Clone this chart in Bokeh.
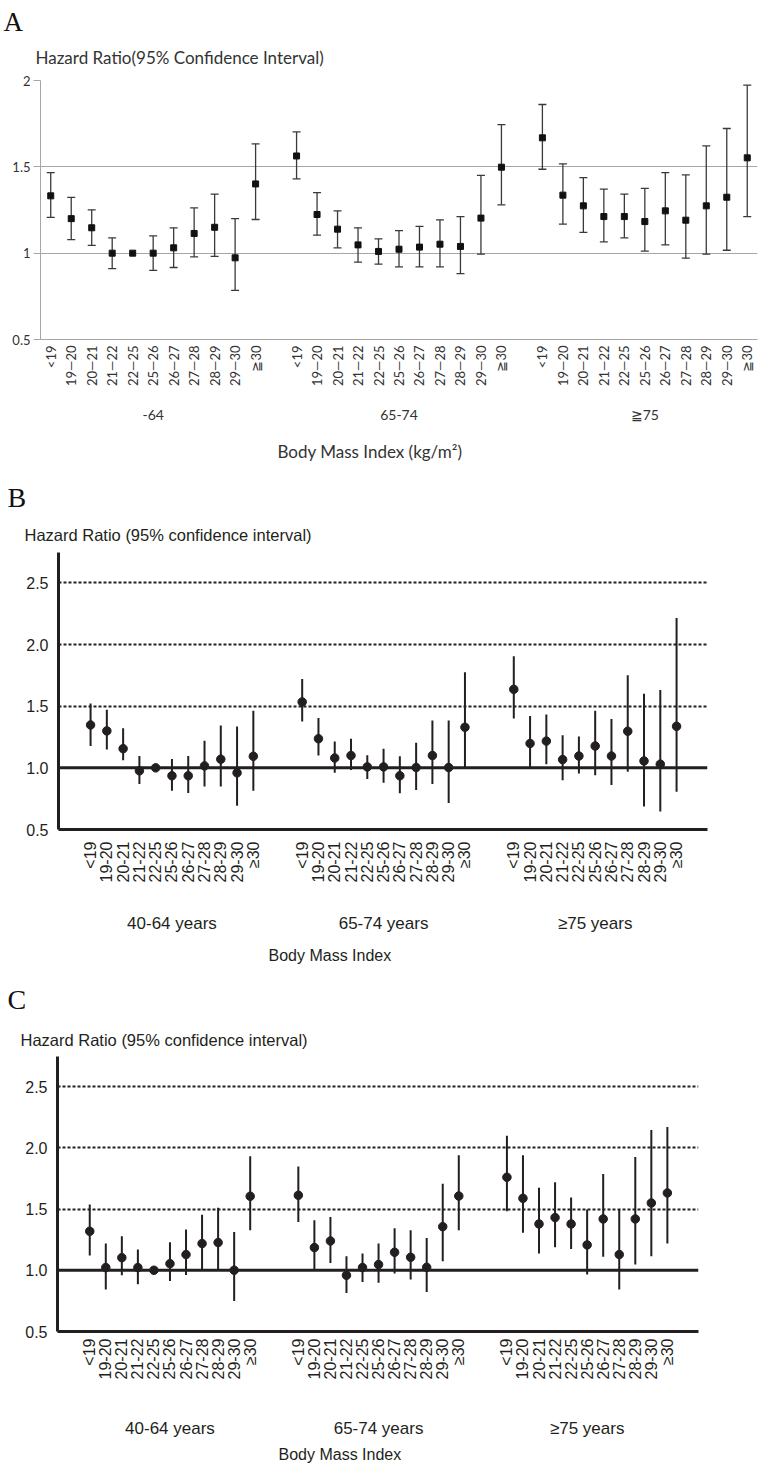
import math
from bokeh.plotting import figure
from bokeh.models import (Range1d, FixedTicker, Span, ColumnDataSource, NumeralTickFormatter,
                          LinearAxis, Title)
from bokeh.embed import file_html
from bokeh.resources import INLINE

NaN = float("nan")

# ---------------- Panel A data ----------------
a_groups = ["-64", "65-74", "≧75"]
a_cats = ["<19", "19—20", "20—21", "21—22", "22—25", "25—26", "26—27", "27—28", "28—29", "29—30", "≧30"]
a_hr_64 = [1.332, 1.200, 1.147, 1.000, 1.000, 1.000, 1.031, 1.114, 1.150, 0.973, 1.401]
a_lo_64 = [1.207, 1.079, 1.045, 0.911, NaN, 0.900, 0.917, 0.979, 0.981, 0.784, 1.195]
a_hi_64 = [1.467, 1.323, 1.251, 1.089, NaN, 1.100, 1.147, 1.262, 1.342, 1.200, 1.633]
a_hr_6574 = [1.563, 1.224, 1.139, 1.048, 1.010, 1.023, 1.035, 1.052, 1.039, 1.203, 1.498]
a_lo_6574 = [1.430, 1.104, 1.031, 0.948, 0.936, 0.921, 0.921, 0.921, 0.882, 0.994, 1.280]
a_hi_6574 = [1.702, 1.351, 1.245, 1.147, 1.083, 1.131, 1.155, 1.193, 1.212, 1.450, 1.745]
a_hr_75 = [1.668, 1.336, 1.274, 1.212, 1.212, 1.183, 1.245, 1.191, 1.274, 1.324, 1.552]
a_lo_75 = [1.486, 1.168, 1.120, 1.065, 1.089, 1.012, 1.048, 0.971, 0.994, 1.017, 1.212]
a_hi_75 = [1.861, 1.517, 1.438, 1.371, 1.342, 1.375, 1.467, 1.453, 1.621, 1.722, 1.973]
a_yticks = [0.5, 1.0, 1.5, 2.0]

# ---------------- Panel B data ----------------
bc_groups = ["40-64 years", "65-74 years", "≥75 years"]
bc_cats = ["<19", "19-20", "20-21", "21-22", "22-25", "25-26", "26-27", "27-28", "28-29", "29-30", "≥30"]
b_hr_4064 = [1.348, 1.300, 1.156, 0.976, 1.000, 0.936, 0.936, 1.016, 1.070, 0.960, 1.094]
b_lo_4064 = [1.177, 1.148, 1.062, 0.869, NaN, 0.815, 0.797, 0.848, 0.848, 0.693, 0.815]
b_hi_4064 = [1.522, 1.471, 1.321, 1.096, NaN, 1.072, 1.096, 1.220, 1.343, 1.335, 1.463]
b_hr_6574 = [1.535, 1.236, 1.080, 1.100, 1.008, 1.008, 0.936, 1.003, 1.100, 1.003, 1.329]
b_lo_6574 = [1.377, 1.100, 0.960, 0.982, 0.909, 0.880, 0.794, 0.820, 0.869, 0.714, 1.000]
b_hi_6574 = [1.720, 1.404, 1.214, 1.236, 1.102, 1.156, 1.094, 1.204, 1.385, 1.385, 1.776]
b_hr_75 = [1.637, 1.198, 1.217, 1.067, 1.096, 1.177, 1.096, 1.297, 1.056, 1.030, 1.337]
b_lo_75 = [1.401, 1.000, 1.030, 0.900, 0.955, 0.941, 0.861, 0.968, 0.687, 0.647, 0.807]
b_hi_75 = [1.905, 1.420, 1.433, 1.265, 1.254, 1.463, 1.396, 1.752, 1.602, 1.632, 2.215]

# ---------------- Panel C data ----------------
c_hr_4064 = [1.318, 1.022, 1.103, 1.022, 1.000, 1.054, 1.128, 1.218, 1.226, 1.000, 1.604]
c_lo_4064 = [1.120, 0.842, 0.959, 0.886, NaN, 0.913, 0.962, 1.010, 1.005, 0.750, 1.326]
c_hi_4064 = [1.536, 1.218, 1.277, 1.169, NaN, 1.228, 1.332, 1.454, 1.511, 1.313, 1.930]
c_hr_6574 = [1.612, 1.185, 1.239, 0.959, 1.022, 1.046, 1.147, 1.106, 1.024, 1.356, 1.606]
c_lo_6574 = [1.394, 1.000, 1.060, 0.815, 0.905, 0.897, 0.973, 0.924, 0.823, 1.073, 1.326]
c_hi_6574 = [1.848, 1.408, 1.435, 1.114, 1.136, 1.218, 1.343, 1.326, 1.264, 1.707, 1.938]
c_hr_75 = [1.759, 1.587, 1.378, 1.430, 1.378, 1.207, 1.419, 1.128, 1.419, 1.549, 1.631]
c_lo_75 = [1.481, 1.307, 1.136, 1.188, 1.174, 0.965, 1.111, 0.842, 1.046, 1.114, 1.218]
c_hi_75 = [2.099, 1.938, 1.674, 1.718, 1.593, 1.495, 1.786, 1.495, 1.924, 2.144, 2.169]
bc_yticks = [0.5, 1.0, 1.5, 2.0, 2.5]
bc_dotted = [1.5, 2.0, 2.5]

INK = "#231f20"


def slot_positions(step, n_groups, n_cats):
    return [g * step + i for g in range(n_groups) for i in range(n_cats)]


def style_title(t, text, font, size, color, offset, standoff):
    t.text = text
    t.text_font = font
    t.text_font_size = size
    t.text_font_style = "normal"
    t.text_color = color
    t.align = "left"
    t.offset = offset
    t.standoff = standoff


def group_axis(centers, names, font, size, color, standoff):
    ax = LinearAxis(ticker=FixedTicker(ticks=centers, minor_ticks=[]),
                    major_label_overrides={c: n for c, n in zip(centers, names)})
    ax.axis_line_color = None
    ax.major_tick_line_color = None
    ax.major_tick_out = 0
    ax.major_tick_in = 0
    ax.major_label_standoff = standoff
    ax.major_label_text_font = font
    ax.major_label_text_font_size = size
    ax.major_label_text_color = color
    return ax


# ======================= Panel A =======================
def panel_a():
    step = len(a_cats) + 1
    xs = slot_positions(step, len(a_groups), len(a_cats))
    src = ColumnDataSource(dict(
        x=xs,
        hr=a_hr_64 + a_hr_6574 + a_hr_75,
        lo=a_lo_64 + a_lo_6574 + a_lo_75,
        hi=a_hi_64 + a_hi_6574 + a_hi_75,
    ))
    p = figure(width=758, height=478, output_backend="svg", toolbar_location=None,
               x_range=Range1d(-0.5, xs[-1] + 0.5), y_range=Range1d(0.5, 2.0),
               min_border_left=40, min_border_right=1, min_border_top=80, min_border_bottom=139)
    p.outline_line_color = None
    p.xgrid.grid_line_color = None
    p.ygrid.ticker = FixedTicker(ticks=a_yticks, minor_ticks=[])
    p.ygrid.grid_line_color = "#a6a6a6"
    p.ygrid.grid_line_width = 1

    col = "#3a3a3a"
    p.segment(x0="x", y0="lo", x1="x", y1="hi", source=src, line_color=col, line_width=1.3)
    p.scatter(x="x", y="lo", source=src, marker="dash", size=8, line_color=col, line_width=1.3)
    p.scatter(x="x", y="hi", source=src, marker="dash", size=8, line_color=col, line_width=1.3)
    p.scatter(x="x", y="hr", source=src, marker="square", size=6, fill_color="#111111", line_color="#111111")

    ya = p.yaxis[0]
    ya.ticker = FixedTicker(ticks=a_yticks, minor_ticks=[])
    ya.formatter = NumeralTickFormatter(format="0.[0]")
    ya.axis_line_color = "#a6a6a6"
    ya.major_tick_line_color = "#a6a6a6"
    ya.major_tick_out = 7
    ya.major_tick_in = 0
    ya.major_label_standoff = 3
    ya.major_label_text_font = "Lato"
    ya.major_label_text_font_size = "13px"
    ya.major_label_text_color = "#333333"

    xa = p.xaxis[0]
    xa.ticker = FixedTicker(ticks=xs, minor_ticks=[])
    xa.major_label_overrides = {x: lab for x, lab in zip(xs, a_cats * len(a_groups))}
    xa.major_label_orientation = math.pi / 2
    xa.axis_line_color = "#a6a6a6"
    xa.major_tick_line_color = None
    xa.major_tick_out = 0
    xa.major_label_standoff = 6
    xa.major_label_text_font = "Lato"
    xa.major_label_text_font_size = "13px"
    xa.major_label_text_color = "#333333"

    centers = [g * step + (len(a_cats) - 1) // 2 for g in range(len(a_groups))]
    p.add_layout(group_axis(centers, a_groups, "Lato", "14px", "#333333", 17), "below")
    p.add_layout(Title(text="Body Mass Index (kg/m²)", text_font="Lato", text_font_size="17px",
                       text_font_style="normal", text_color="#333333", align="left",
                       offset=237, standoff=27), "below")

    # outermost: panel letter; nearest the frame: y-axis caption
    style_title(p.title, "A", "Liberation Serif", "27px", "#111111", -37, -8)
    p.add_layout(Title(text="Hazard Ratio(95% Confidence  Interval)", text_font="Lato", text_font_size="17px",
                       text_font_style="normal", text_color="#333333", align="left",
                       offset=-5, standoff=25), "above")
    return p


# ======================= Panels B / C =======================
def panel_bc(letter, hr, lo, hi, height, top, bottom, left, right, xr, yr_end,
             letter_off, letter_standoff, title_off, title_standoff, tick_standoff,
             group_standoff, bmi_off, bmi_standoff):
    step = len(bc_cats) + 2
    xs = slot_positions(step, len(bc_groups), len(bc_cats))
    src = ColumnDataSource(dict(x=xs, hr=hr, lo=lo, hi=hi))
    p = figure(width=758, height=height, output_backend="svg", toolbar_location=None,
               x_range=Range1d(*xr), y_range=Range1d(0.5, yr_end),
               min_border_left=left, min_border_right=right, min_border_top=top, min_border_bottom=bottom)
    p.outline_line_color = None
    p.xgrid.grid_line_color = None
    p.ygrid.ticker = FixedTicker(ticks=bc_dotted, minor_ticks=[])
    p.ygrid.grid_line_color = INK
    p.ygrid.grid_line_width = 2
    p.ygrid.grid_line_dash = "3 2"
    p.add_layout(Span(location=1.0, dimension="width", line_color=INK, line_width=3))

    p.segment(x0="x", y0="lo", x1="x", y1="hi", source=src, line_color=INK, line_width=2)
    p.scatter(x="x", y="hr", source=src, marker="circle", size=8.5, fill_color=INK, line_color=INK)

    ya = p.yaxis[0]
    ya.ticker = FixedTicker(ticks=bc_yticks, minor_ticks=[])
    ya.formatter = NumeralTickFormatter(format="0.0")
    ya.axis_line_color = INK
    ya.axis_line_width = 3
    ya.major_tick_line_color = None
    ya.major_tick_out = 0
    ya.major_tick_in = 0
    ya.major_label_standoff = 10
    ya.major_label_text_font = "Liberation Sans"
    ya.major_label_text_font_size = "16px"
    ya.major_label_text_color = INK

    xa = p.xaxis[0]
    xa.ticker = FixedTicker(ticks=xs, minor_ticks=[])
    xa.major_label_overrides = {x: lab for x, lab in zip(xs, bc_cats * len(bc_groups))}
    xa.major_label_orientation = math.pi / 2
    xa.axis_line_color = INK
    xa.axis_line_width = 3
    xa.major_tick_line_color = None
    xa.major_tick_out = 0
    xa.major_tick_in = 0
    xa.major_label_standoff = tick_standoff
    xa.major_label_text_font = "Liberation Sans"
    xa.major_label_text_font_size = "16px"
    xa.major_label_text_color = INK

    centers = [g * step + (len(bc_cats) - 1) // 2 for g in range(len(bc_groups))]
    p.add_layout(group_axis(centers, bc_groups, "Liberation Sans", "17px", INK, group_standoff), "below")
    p.add_layout(Title(text="Body Mass Index", text_font="Liberation Sans", text_font_size="16px",
                       text_font_style="normal", text_color=INK, align="left",
                       offset=bmi_off, standoff=bmi_standoff), "below")

    style_title(p.title, letter, "Liberation Serif", "28px", "#111111", letter_off, letter_standoff)
    p.add_layout(Title(text="Hazard Ratio (95% confidence interval)", text_font="Liberation Sans",
                       text_font_size="16.5px", text_font_style="normal", text_color=INK, align="left",
                       offset=title_off, standoff=title_standoff), "above")
    return p


pA = panel_a()
pB = panel_bc("B", b_hr_4064 + b_hr_6574 + b_hr_75, b_lo_4064 + b_lo_6574 + b_lo_75,
              b_hi_4064 + b_hi_6574 + b_hi_75,
              height=494, top=72, bottom=142, left=58, right=51, xr=(-1.97, 37.9), yr_end=2.747,
              letter_off=-51, letter_standoff=3, title_off=-34, title_standoff=18,
              tick_standoff=12, group_standoff=28, bmi_off=210, bmi_standoff=18)
pC = panel_bc("C", c_hr_4064 + c_hr_6574 + c_hr_75, c_lo_4064 + c_lo_6574 + c_lo_75,
              c_hi_4064 + c_hi_6574 + c_hi_75,
              height=495, top=84, bottom=136, left=57, right=60, xr=(-2.01, 37.94), yr_end=2.745,
              letter_off=-50, letter_standoff=14, title_off=-37, title_standoff=15,
              tick_standoff=7, group_standoff=36, bmi_off=221, bmi_standoff=7)

open("out.html", "w").write(file_html([pA, pB, pC], INLINE))
